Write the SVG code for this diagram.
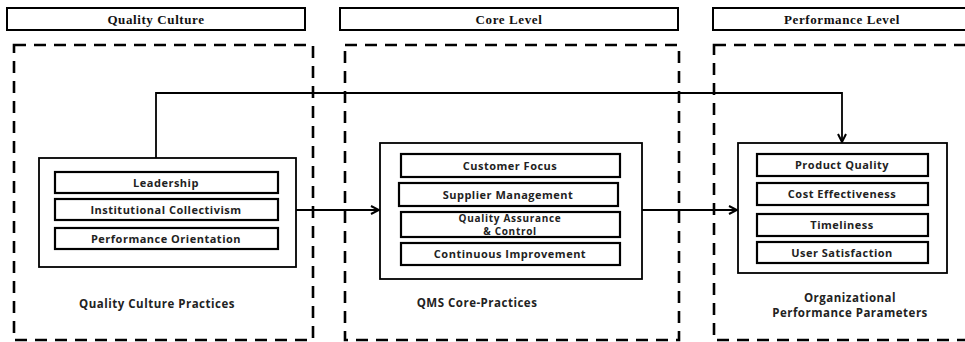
<svg xmlns="http://www.w3.org/2000/svg" width="965" height="342" viewBox="0 0 965 342">
<style>
.hdr{fill:#fff;stroke:#000;stroke-width:2}
.ht{font-family:"Liberation Serif",serif;font-weight:bold;font-size:13px;letter-spacing:0.6px;text-anchor:middle;fill:#111}
.dash{fill:none;stroke:#000;stroke-width:2.6;stroke-dasharray:12 8}
.box{fill:#fff;stroke:#000;stroke-width:1.8}
.sub{fill:#fff;stroke:#000;stroke-width:2.2}
.st{font-family:"Open Sans",sans-serif;font-weight:bold;font-size:11px;letter-spacing:0.5px;text-anchor:middle;fill:#222}
.st2{font-family:"Open Sans",sans-serif;font-weight:bold;font-size:10px;letter-spacing:0.7px;text-anchor:middle;fill:#222}
.lbl{font-family:"Open Sans",sans-serif;font-weight:bold;font-size:11.5px;letter-spacing:0.5px;text-anchor:middle;fill:#222}
.con{fill:none;stroke:#000;stroke-width:1.8}
</style>
<defs>
<marker id="ah" markerWidth="10" markerHeight="10" refX="9" refY="5" orient="auto" markerUnits="userSpaceOnUse">
<path d="M1,1 L9,5 L1,9" fill="none" stroke="#000" stroke-width="2"/>
</marker>
</defs>
<rect width="965" height="342" fill="#fff"/>
<g id="headers">
<rect class="hdr" x="7" y="8" width="298" height="22"/>
<text class="ht" x="156" y="24">Quality Culture</text>
<rect class="hdr" x="340" y="8" width="338" height="22"/>
<text class="ht" x="509" y="24">Core Level</text>
<rect class="hdr" x="713" y="8" width="260" height="22"/>
<text class="ht" x="842" y="24">Performance Level</text>
</g>
<g id="zones">
<rect class="dash" x="14" y="45" width="299" height="295"/>
<rect class="dash" x="345" y="45" width="334" height="295"/>
<rect class="dash" x="714" y="45" width="270" height="295"/>
</g>
<g id="connectors">
<polyline class="con" points="156,158 156,93 842,93 842,142" marker-end="url(#ah)"/>
<line class="con" x1="296" y1="210" x2="379" y2="210" marker-end="url(#ah)"/>
<line class="con" x1="642" y1="210" x2="737" y2="210" marker-end="url(#ah)"/>
</g>
<g id="quality-culture-practices">
<rect class="box" x="39" y="158" width="257" height="109"/>
<rect class="sub" x="55" y="172" width="223" height="21"/>
<text class="st" x="166" y="186.5">Leadership</text>
<rect class="sub" x="55" y="199" width="223" height="21"/>
<text class="st" x="166" y="213.5">Institutional Collectivism</text>
<rect class="sub" x="55" y="228" width="223" height="21"/>
<text class="st" x="166" y="242.5">Performance Orientation</text>
<text class="lbl" x="157" y="308">Quality Culture Practices</text>
</g>
<g id="qms-core-practices">
<rect class="box" x="380" y="143" width="262" height="136"/>
<rect class="sub" x="401" y="154" width="219" height="23"/>
<text class="st" x="510" y="169.5">Customer Focus</text>
<rect class="sub" x="399" y="183" width="219" height="23"/>
<text class="st" x="508" y="198.5">Supplier Management</text>
<rect class="sub" x="401" y="212" width="219" height="25"/>
<text class="st2" x="510" y="221.5">Quality Assurance</text>
<text class="st2" x="510" y="235.2">&amp; Control</text>
<rect class="sub" x="401" y="243" width="219" height="22"/>
<text class="st" x="510" y="258">Continuous Improvement</text>
<text class="lbl" x="477" y="307">QMS Core-Practices</text>
</g>
<g id="organizational-performance-parameters">
<rect class="box" x="738" y="143" width="209" height="130"/>
<rect class="sub" x="757" y="154" width="171" height="22"/>
<text class="st" x="842" y="169">Product Quality</text>
<rect class="sub" x="757" y="183" width="171" height="22"/>
<text class="st" x="842" y="198">Cost Effectiveness</text>
<rect class="sub" x="757" y="214" width="171" height="22"/>
<text class="st" x="842" y="229">Timeliness</text>
<rect class="sub" x="757" y="242" width="171" height="21"/>
<text class="st" x="842" y="256.5">User Satisfaction</text>
<text class="lbl" x="850" y="302">Organizational</text>
<text class="lbl" x="850" y="317">Performance Parameters</text>
</g>
</svg>
